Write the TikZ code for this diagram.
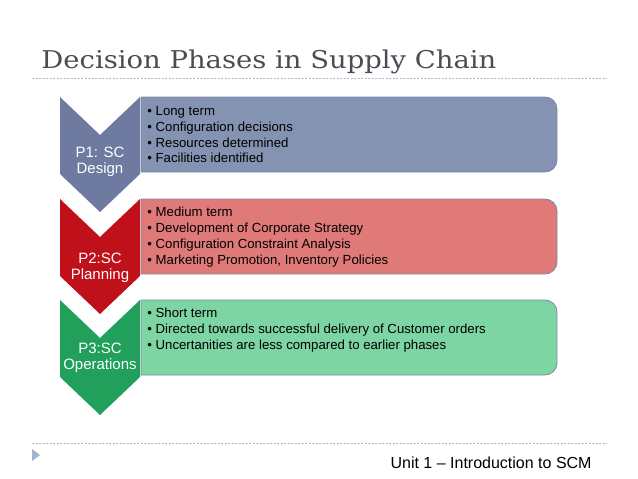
\documentclass[tikz,border=0pt]{standalone}
\usepackage{fontspec}
\setmainfont{Liberation Sans}
\newfontfamily\titlefont[FakeStretch=1.12]{DejaVu Serif}
\definecolor{titlegray}{RGB}{76,76,84}
\definecolor{dashblue}{RGB}{168,186,204}
\definecolor{tipblue}{RGB}{160,180,204}
\definecolor{boxedge}{RGB}{125,135,165}
\definecolor{designdark}{RGB}{110,122,160}
\definecolor{designlight}{RGB}{133,147,179}
\definecolor{planningdark}{RGB}{192,16,26}
\definecolor{planninglight}{RGB}{223,122,120}
\definecolor{opsdark}{RGB}{32,160,90}
\definecolor{opslight}{RGB}{125,213,163}
\begin{document}
\begin{tikzpicture}[x=1pt, y=-1pt, line width=0.8pt,
	phase/.style={text=white, align=center, inner sep=0, font=\fontsize{15}{16}\selectfont},
	itemlist/.style={anchor=north west, align=left, inner sep=0, font=\fontsize{13.2}{15.8}\selectfont},
	separator/.style={draw=dashblue, line width=0.6pt, dash pattern=on 2pt off 1.5pt}]
				\useasboundingbox (0,0) rectangle (638,479);
				\node[anchor=base west, inner sep=0, text=titlegray, font=\titlefont\fontsize{24.5}{28}\selectfont] (title) at (41,68) {Decision Phases in Supply Chain};
				\draw[separator] (32,78) -- (607,78);
				\draw[separator] (32,443) -- (607,443);
				\fill[tipblue] (32,449) -- (40,455) -- (32,461) -- cycle;
				\draw[fill=designlight, draw=boxedge] (141,97) -- (545,97) arc[start angle=-90, end angle=0, radius=12] -- (557,160) arc[start angle=0, end angle=90, radius=12] -- (141,172) -- cycle;
				\draw[fill=planninglight, draw=boxedge] (141,199) -- (545,199) arc[start angle=-90, end angle=0, radius=12] -- (557,262) arc[start angle=0, end angle=90, radius=12] -- (141,274) -- cycle;
				\draw[fill=opslight, draw=boxedge] (141,300) -- (545,300) arc[start angle=-90, end angle=0, radius=12] -- (557,363) arc[start angle=0, end angle=90, radius=12] -- (141,375) -- cycle;
				\fill[designdark] (60,97) -- (100,135) -- (140,97) -- (140,174) -- (100,212) -- (60,174) -- cycle;
				\fill[planningdark] (60,199) -- (100,237) -- (140,199) -- (140,276) -- (100,314) -- (60,276) -- cycle;
				\fill[opsdark] (60,300) -- (100,338) -- (140,300) -- (140,377) -- (100,415) -- (60,377) -- cycle;
				\node[phase] (p1) at (100,162) {P1: SC\\Design};
				\node[phase] (p2) at (100,268) {P2:SC\\Planning};
				\node[phase] (p3) at (100,358) {P3:SC\\Operations};
				\node[itemlist] (d1) at (147,106) {\textbullet\ Long term\\\textbullet\ Configuration decisions\\\textbullet\ Resources determined\\\textbullet\ Facilities identified};
				\node[itemlist] (d2) at (147,207) {\textbullet\ Medium term\\\textbullet\ Development of Corporate Strategy\\\textbullet\ Configuration Constraint Analysis\\\textbullet\ Marketing Promotion, Inventory Policies};
				\node[itemlist] (d3) at (147,308) {\textbullet\ Short term\\\textbullet\ Directed towards successful delivery of Customer orders\\\textbullet\ Uncertanities are less compared to earlier phases};
				\node[anchor=base east, inner sep=0, font=\fontsize{16}{19}\selectfont] (footer) at (592,468) {Unit 1 – Introduction to SCM};
			\end{tikzpicture}
\end{document}
